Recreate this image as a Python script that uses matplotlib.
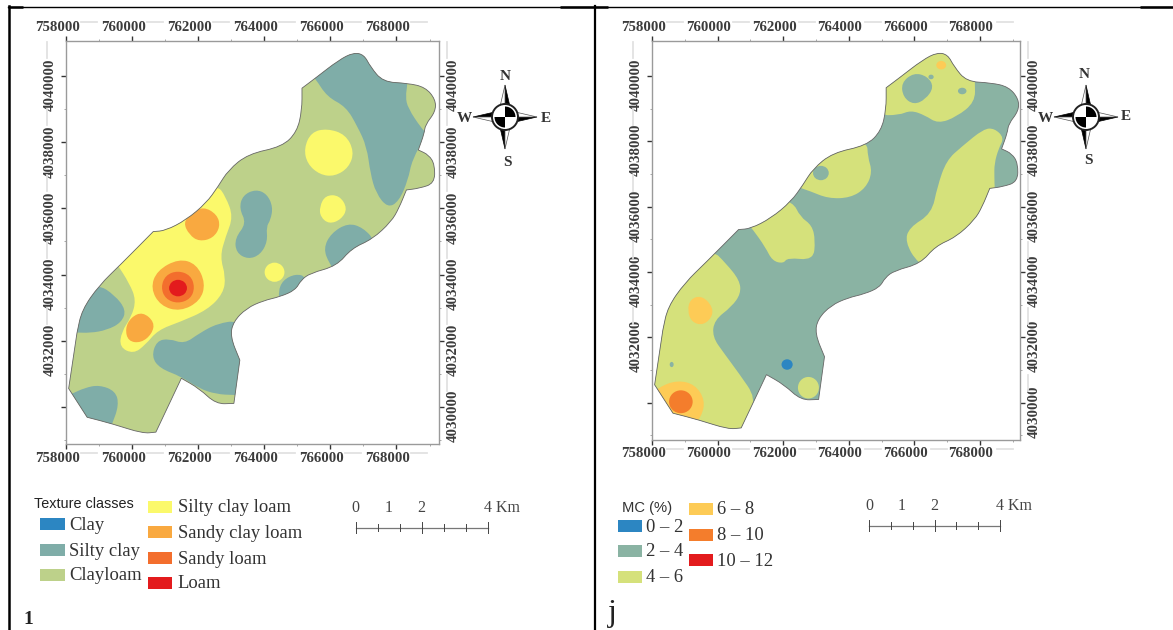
# Two soil maps side by side: texture classes (left) and MC % (right)
import numpy as np
import matplotlib
matplotlib.use("Agg")
import matplotlib.pyplot as plt
from matplotlib.patches import Polygon, PathPatch, Ellipse, Rectangle, Circle, Wedge
from matplotlib.path import Path

# map coordinates are km from the origin below
X0, Y0 = 758000, 4030000

x_ticks = [758000, 760000, 762000, 764000, 766000, 768000]
y_ticks = [4030000, 4032000, 4034000, 4036000, 4038000, 4040000]
y_ticks_left = [4032000, 4034000, 4036000, 4038000, 4040000]

outline = [(8.70,10.72),(9.02,10.65),(9.21,10.29),(9.59,9.83),(10.34,9.79),(10.87,9.67),(11.18,9.30),
           (11.18,8.93),(10.87,8.53),(10.84,8.27),(10.66,7.77),(10.98,7.62),(11.16,7.32),(11.15,6.76),
           (10.69,6.61),(10.30,6.56),(10.07,6.00),(9.84,5.60),(9.27,5.07),(8.64,4.79),(8.19,4.26),
           (7.39,4.04),(7.11,3.83),(6.94,3.53),(6.48,3.33),(5.97,3.21),(5.46,2.98),(5.06,2.57),
           (4.97,2.12),(5.26,1.41),(5.08,0.10),(4.54,0.08),(4.03,0.55),(3.49,0.86),(2.72,-0.77),
           (2.32,-0.81),(1.41,-0.52),(0.64,-0.32),(0.08,0.55),(0.33,2.22),(0.48,2.93),(1.01,3.68),
           (1.64,4.29),(2.64,5.30),(3.01,5.33),(3.63,5.65),(4.24,6.16),(4.60,6.66),(4.91,7.16),
           (5.51,7.65),(6.54,7.87),(6.99,8.32),(7.14,8.98),(7.14,9.64),(7.54,9.94),(8.25,10.49)]
# these stay pointed when the outline is rounded
sharp_corners = [(10.66,7.77),(5.26,1.41),(5.08,0.10),(3.49,0.86),(2.72,-0.77),(0.08,0.55),(0.64,-0.32),
                 (7.14,9.64),(10.30,6.56),(0.33,2.22),(2.64,5.30)]

# texture classes
silty_clay = [
    [(7.33,10.14),(7.54,9.94),(7.90,9.38),(8.47,9.08),(8.82,8.48),(9.10,7.87),(9.21,7.06),(9.38,6.46),
     (9.73,6.02),(10.07,6.21),(10.35,6.86),(10.47,7.47),(10.92,8.27),(10.75,8.43),(10.35,9.03),(10.27,9.38),
     (10.34,9.79),(10.34,11.1),(7.11,11.1)],
    [(5.74,6.58),(6.08,6.44),(6.26,6.05),(6.19,5.65),(6.06,5.45),(6.10,5.00),(5.88,4.60),(5.51,4.46),
     (5.15,4.66),(5.11,5.10),(5.46,5.55),(5.24,6.00),(5.35,6.40)],
    [(7.96,4.34),(7.79,4.79),(8.02,5.25),(8.53,5.56),(8.99,5.42),(9.38,4.99),(9.38,3.94),(8.25,3.94)],
    [(6.42,3.48),(6.56,3.83),(6.94,4.02),(7.28,3.94),(7.22,3.33),(6.48,3.18)],
    [(0.96,3.71),(1.47,3.38),(1.82,2.93),(1.68,2.55),(1.24,2.32),(0.73,2.23),(0.27,2.25),(-0.64,2.25),(-0.52,3.73)],
    [(2.59,1.51),(2.74,1.99),(3.12,2.06),(3.58,1.90),(4.03,2.22),(4.58,2.52),(5.28,2.62),(5.97,1.41),
     (5.97,0.35),(5.11,0.35),(4.54,0.38),(4.03,0.55),(3.49,0.91),(2.84,1.16)],
    [(0.16,0.38),(0.56,0.57),(1.01,0.66),(1.50,0.47),(1.60,0.05),(1.39,-0.55),(1.18,-1.0),(-0.3,-1.0),(-0.3,0.2)],
]
silty_clay_loam = [
    [(1.53,4.34),(1.92,3.73),(2.12,3.23),(1.98,2.72),(1.68,2.27),(1.62,1.80),(2.04,1.60),(2.40,1.87),
     (2.78,2.32),(3.46,2.57),(4.28,2.93),(4.76,3.43),(4.83,3.94),(4.66,4.54),(4.83,5.15),(5.06,5.75),
     (4.83,6.36),(4.58,6.71),(3.46,6.66),(1.18,4.84)],
    [(7.20,7.82),(7.42,8.31),(7.90,8.42),(8.46,8.24),(8.72,7.72),(8.56,7.24),(8.13,6.97),(7.68,7.02),(7.30,7.35)],
    [(7.67,6.05),(7.85,6.40),(8.27,6.40),(8.52,6.00),(8.32,5.66),(7.96,5.53),(7.70,5.74)],
]
sandy_clay_loam = [
    [(4.15,6.06),(4.57,5.82),(4.67,5.45),(4.45,5.10),(4.03,5.00),(3.73,5.20),(3.55,5.57),(3.78,5.84)],
    [(2.32,2.87),(2.68,2.56),(2.60,2.20),(2.27,1.93),(1.88,1.98),(1.79,2.37),(1.97,2.71)],
    [(3.41,4.48),(3.95,4.32),(4.22,3.73),(4.06,3.20),(3.46,2.88),(2.86,3.05),(2.56,3.58),(2.75,4.12)],
]
sandy_loam = [[(3.38,4.12),(3.77,3.98),(3.90,3.61),(3.77,3.26),(3.38,3.12),(3.01,3.26),(2.87,3.61),(3.01,3.98)]]
loam_blob = [(3.39, 3.59, 0.27, 0.25)]
silty_clay_loam_blob = [(6.31, 4.07, 0.30, 0.29)]

# MC classes
mc_4_6 = [
    [(6.85,8.80),(7.53,8.80),(7.89,8.95),(8.32,8.80),(8.72,8.54),(9.29,8.75),(9.85,9.20),(9.85,9.82),(9.80,11.09),(6.05,11.09)],
    [(4.41,6.61),(4.81,6.48),(5.37,6.25),(6.05,6.27),(6.52,6.57),(6.72,7.06),(6.58,7.52),(6.56,8.03),(4.92,8.24),(3.79,7.22)],
    [(2.82,5.59),(3.07,5.31),(3.45,4.77),(3.67,4.34),(4.01,4.26),(4.13,4.44),(4.92,4.36),(4.98,4.97),(4.88,5.43),
     (4.52,5.69),(4.30,6.15),(3.56,6.30),(2.65,5.79)],
    [(8.10,4.26),(7.72,4.92),(7.84,5.36),(8.53,5.79),(8.70,6.61),(8.98,7.42),(9.46,7.85),(10.11,8.38),(10.44,8.40),
     (10.74,8.11),(10.57,7.78),(10.44,7.32),(10.44,6.91),(10.45,6.50),(10.59,5.69),(8.89,3.85)],
    [(1.80,4.72),(2.26,4.26),(2.67,3.75),(2.71,3.34),(2.43,2.94),(1.90,2.53),(1.84,2.02),(2.20,1.51),(2.65,0.90),
     (3.18,0.13),(2.88,-0.53),(2.43,-1.45),(-0.75,-1.45),(-0.75,4.16)],
]
mc_2_4_islands = [
    [(7.60,9.79),(7.98,10.10),(8.40,9.99),(8.60,9.66),(8.34,9.28),(7.98,9.12),(7.66,9.35)],
]
mc_2_4_blobs = [(8.51, 9.97, 0.08, 0.07), (9.46, 9.54, 0.13, 0.10), (5.15, 7.03, 0.24, 0.22), (0.60, 1.17, 0.06, 0.08)]
mc_4_6_blobs = [(4.77, 0.46, 0.32, 0.33)]
mc_6_8 = [
    [(1.49,3.28),(1.80,3.02),(1.87,2.68),(1.58,2.37),(1.21,2.46),(1.08,2.83),(1.17,3.17)],
    [(0.22,0.49),(0.78,0.69),(1.31,0.56),(1.62,0.08),(1.51,-0.43),(1.18,-0.78),(0.27,-0.78),(-0.18,0.08)],
]
mc_6_8_blobs = [(8.82, 10.33, 0.15, 0.13)]
mc_8_10_blobs = [(0.88, 0.03, 0.36, 0.35)]
mc_0_2_blobs = [(4.12, 1.17, 0.17, 0.16)]

texture_names_a = ["Clay", "Silty clay", "Clayloam"]
texture_names_b = ["Silty clay loam", "Sandy clay loam", "Sandy loam", "Loam"]
mc_names_a = ["0 – 2", "2 – 4", "4 – 6"]
mc_names_b = ["6 – 8", "8 – 10", "10 – 12"]

BLUE = "#2C86C2"
TEAL_L = "#7FADA8"
LOAM_L = "#BDD18A"
YEL_L = "#FBF96B"
ORG_L = "#F9A940"
DORG_L = "#F36E2D"
RED = "#E31B1D"
TEAL_R = "#8AB3A3"
LIME_R = "#D5E17B"
YEL_R = "#FDCB56"
DORG_R = "#F47D2C"

SERIF = "Liberation Serif"
SANS = "Liberation Sans"
W, H = 1173, 630

fig = plt.figure(figsize=(W/100, H/100), dpi=100)
fig.patch.set_facecolor("white")

# full-figure axes in pixels for the table lines, legends, scale bars and compass
page = fig.add_axes([0, 0, 1, 1], zorder=3)
page.set_xlim(0, W)
page.set_ylim(H, 0)
page.axis("off")
page.patch.set_alpha(0)


def km(pts):
    p = np.array(pts, dtype=float)
    return np.column_stack([X0 + 1000*p[:, 0], Y0 + 1000*p[:, 1]])


def smooth(pts):
    # rounded closed path through the midpoints of the polygon sides
    p = km(pts)
    mids = (p + np.roll(p, -1, axis=0)) / 2
    verts = [mids[-1]]
    codes = [Path.MOVETO]
    for i in range(len(p)):
        verts += [p[i], mids[i]]
        codes += [Path.CURVE3, Path.CURVE3]
    return Path(verts, codes)


def outline_path():
    pts = []
    for q in outline:
        pts.append(q)
        if q in sharp_corners:
            pts.append(q)
    return smooth(pts)


def fill(ax, clip, polys, color):
    for pts in polys:
        a = PathPatch(smooth(pts), fc=color, ec="none", zorder=2)
        ax.add_patch(a)
        a.set_clip_path(clip)


def blobs(ax, clip, items, color):
    for cx, cy, rx, ry in items:
        e = Ellipse((X0 + 1000*cx, Y0 + 1000*cy), 2000*rx, 2000*ry, fc=color, ec="none", zorder=2)
        ax.add_patch(e)
        e.set_clip_path(clip)


def map_axes(l, t, r, b, xlim, ylim, base, labx, laby):
    ax = fig.add_axes([l/W, 1 - b/H, (r-l)/W, (b-t)/H], zorder=1)
    ax.set_xlim(xlim)
    ax.set_ylim(ylim)
    for s in ax.spines.values():
        s.set_color("#9a9a9a")
        s.set_linewidth(1.0)
    ax.set_xticks(x_ticks)
    ax.set_yticks(y_ticks)
    ax.set_xticks(np.arange(759000, 770000, 2000), minor=True)
    ax.set_yticks(np.arange(4029000, 4041000, 2000), minor=True)
    ax.tick_params(which="major", direction="out", length=3.8, width=1.0, color="#333333",
                   top=True, right=True, labelbottom=False, labelleft=False)
    ax.tick_params(which="minor", direction="out", length=1.6, width=0.6, color="#999999",
                   top=True, right=True)
    clip = PathPatch(outline_path(), fc=base, ec="none", zorder=1)
    ax.add_patch(clip)
    edge = PathPatch(outline_path(), fc="none", ec="#666666", lw=0.6, zorder=4)
    ax.add_patch(edge)

    style = dict(family=SERIF, fontsize=10.7, fontweight="bold", color="#3c3c3c",
                 ha="center", va="center", annotation_clip=False)
    for v in x_ticks:
        ax.annotate(str(v), (v, 1), xycoords=ax.get_xaxis_transform(), xytext=(-6.4, labx[0]),
                    textcoords="offset points", **style)
        ax.annotate(str(v), (v, 0), xycoords=ax.get_xaxis_transform(), xytext=(-6.4, labx[1]),
                    textcoords="offset points", **style)
    for v in y_ticks_left:
        ax.annotate(str(v), (0, v), xycoords=ax.get_yaxis_transform(), xytext=(laby[0], -6.4),
                    textcoords="offset points", rotation=90, **style)
    for v in y_ticks:
        ax.annotate(str(v), (1, v), xycoords=ax.get_yaxis_transform(), xytext=(laby[1], -6.4),
                    textcoords="offset points", rotation=90, **style)

    # faint grey dashes left between the tick labels
    for i in range(6):
        xm = l + 23 + i*66
        page.plot([xm-8, xm+8], [t-19.5, t-19.5], color="#e2e2e2", lw=1.3)
        page.plot([xm-8, xm+8], [b+9, b+9], color="#e2e2e2", lw=1.3)
    for i in range(6):
        ym = t + 9 + i*66.5
        if i < 5:
            page.plot([l-19, l-19], [ym-8, ym+8], color="#e2e2e2", lw=1.3)
        page.plot([r+8, r+8], [ym-8, ym+8], color="#e2e2e2", lw=1.3)
    return ax, clip


def compass(cx, cy, lab):
    arm = 32
    s = 6
    # each arm: a black half and a white half
    page.add_patch(Polygon([(cx, cy-arm), (cx+s, cy-s), (cx, cy-s)], fc="black", ec="black", lw=0.5))
    page.add_patch(Polygon([(cx, cy-arm), (cx-s, cy-s), (cx, cy-s)], fc="white", ec="#555555", lw=0.5))
    page.add_patch(Polygon([(cx, cy+arm), (cx-s, cy+s), (cx, cy+s)], fc="black", ec="black", lw=0.5))
    page.add_patch(Polygon([(cx, cy+arm), (cx+s, cy+s), (cx, cy+s)], fc="white", ec="#555555", lw=0.5))
    page.add_patch(Polygon([(cx-arm, cy), (cx-s, cy-s), (cx-s, cy)], fc="black", ec="black", lw=0.5))
    page.add_patch(Polygon([(cx-arm, cy), (cx-s, cy+s), (cx-s, cy)], fc="white", ec="#555555", lw=0.5))
    page.add_patch(Polygon([(cx+arm, cy), (cx+s, cy+s), (cx+s, cy)], fc="black", ec="black", lw=0.5))
    page.add_patch(Polygon([(cx+arm, cy), (cx+s, cy-s), (cx+s, cy)], fc="white", ec="#555555", lw=0.5))
    page.add_patch(Circle((cx, cy), 13, fc="white", ec="#222222", lw=1.4))
    page.add_patch(Wedge((cx, cy), 10.5, 270, 360, fc="black", ec="none"))
    page.add_patch(Wedge((cx, cy), 10.5, 90, 180, fc="black", ec="none"))
    for letter, (tx, ty) in lab.items():
        page.text(tx, ty, letter, family=SERIF, fontsize=11, fontweight="bold", color="#333333",
                  ha="center", va="center")


def scale_bar(x0, x1, y, laby, label_x):
    page.plot([x0, x1], [y, y], color="#777777", lw=0.9)
    for i, xt in enumerate(np.linspace(x0, x1, 7)):
        h = 5.5 if i in (0, 3, 6) else 3.5
        page.plot([xt, xt], [y-h, y+h], color="#444444", lw=0.7)
    for s, xt in zip(["0", "1", "2"], label_x):
        page.text(xt, laby, s, family=SERIF, fontsize=11.5, color="#444444", ha="center", va="center")
    page.text(label_x[3], laby, "4 Km", family=SERIF, fontsize=11.5, color="#444444", ha="left", va="center")


def legend_col(x0, x1, tx, tops, names, colors, h=12):
    for top, name, c in zip(tops, names, colors):
        page.add_patch(Rectangle((x0, top), x1-x0, h, fc=c, ec="none"))
        page.text(tx, top + h/2 + 1, name, family=SERIF, fontsize=13.4, color="#333333", ha="left", va="center")


# left map
ax1, clip1 = map_axes(66, 41, 439, 444, (758000, 769286), (4028871, 4041068), LOAM_L, (9.5, -10.5), (-11.5, 10.5))
fill(ax1, clip1, silty_clay, TEAL_L)
fill(ax1, clip1, silty_clay_loam, YEL_L)
blobs(ax1, clip1, silty_clay_loam_blob, YEL_L)
fill(ax1, clip1, sandy_clay_loam, ORG_L)
fill(ax1, clip1, sandy_loam, DORG_L)
blobs(ax1, clip1, loam_blob, RED)

# right map
ax2, clip2 = map_axes(652, 41, 1020, 440, (758000, 769222), (4028860, 4041070), TEAL_R, (9.5, -10), (-11, 10))
fill(ax2, clip2, mc_4_6, LIME_R)
fill(ax2, clip2, mc_2_4_islands, TEAL_R)
blobs(ax2, clip2, mc_2_4_blobs, TEAL_R)
blobs(ax2, clip2, mc_4_6_blobs, LIME_R)
fill(ax2, clip2, mc_6_8, YEL_R)
blobs(ax2, clip2, mc_6_8_blobs, YEL_R)
blobs(ax2, clip2, mc_8_10_blobs, DORG_R)
blobs(ax2, clip2, mc_0_2_blobs, BLUE)

compass(505, 117, {"N": (505, 76), "S": (507, 162), "W": (464.5, 119), "E": (546, 118)})
compass(1086, 117, {"N": (1084.5, 75), "S": (1088, 161), "W": (1045, 118), "E": (1126, 117)})

# legends
page.text(34, 504.5, "Texture classes", family=SANS, fontsize=10.4, color="#222222", ha="left", va="center")
legend_col(39.5, 64.7, 69, [518, 544, 569], texture_names_a, [BLUE, TEAL_L, LOAM_L])
legend_col(147.5, 172, 177.5, [501, 526, 552, 577], texture_names_b, [YEL_L, ORG_L, DORG_L, RED])
page.text(621.5, 508, "MC (%)", family=SANS, fontsize=10.6, color="#333333", ha="left", va="center")
legend_col(617.5, 642, 646.5, [520, 545, 571], mc_names_a, [BLUE, TEAL_R, LIME_R])
legend_col(688.5, 712.7, 717, [503, 529, 554], mc_names_b, [YEL_R, DORG_R, RED])

scale_bar(355.5, 488, 527.7, 508, [355.5, 388.6, 421, 484.5])
scale_bar(869, 1000, 525.7, 505.7, [869, 901.5, 934, 996])

# panel letters
page.text(28, 620, "1", family=SERIF, fontsize=14, fontweight="bold", color="#222222", ha="center", va="center")
page.text(612, 614, "j", family=SERIF, fontsize=23, color="#222222", ha="center", va="center")

# table rules of the source page
page.plot([8, W], [6.5, 6.5], color="black", lw=1.0)
for xa, xb in [(8, 23), (560, 608), (1140, W)]:
    page.plot([xa, xb], [7, 7], color="black", lw=1.8, solid_capstyle="butt")
page.plot([9, 9], [6, H], color="black", lw=1.8)
page.plot([594.5, 594.5], [6, H], color="black", lw=1.6)
page.set_xlim(0, W)
page.set_ylim(H, 0)

fig.savefig("out.png", dpi=100)
